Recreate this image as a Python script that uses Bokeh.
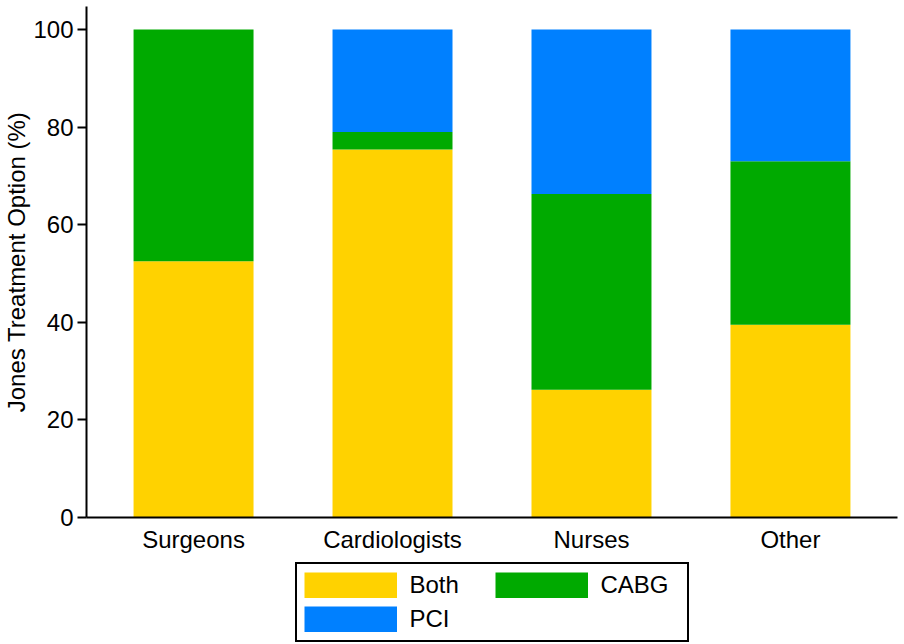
from bokeh.plotting import figure
from bokeh.layouts import column
from bokeh.models import Range1d, FixedTicker, ColumnDataSource, Legend, LegendItem
from bokeh.embed import file_html
from bokeh.resources import INLINE

groups = ["Surgeons", "Cardiologists", "Nurses", "Other"]
both = [52.5, 75.4, 26.2, 39.5]
cabg = [47.5, 3.6, 40.1, 33.5]
pci = [0.0, 21.0, 33.7, 27.0]
series = ["Both", "CABG", "PCI"]
colors = ["#FFD200", "#00AA00", "#0080FF"]
y_ticks = [0, 20, 40, 60, 80, 100]

FONT = "Liberation Sans"
FS = "24px"
FSTYLE = "normal"

xs = list(range(len(groups)))
src = ColumnDataSource(dict(x=xs, Both=both, CABG=cabg, PCI=pci))

p = figure(width=904, height=558, output_backend="svg", toolbar_location=None,
           x_range=Range1d(-0.538, len(groups) - 1 + 0.538),
           y_range=Range1d(0, 104.7),
           min_border_top=6, min_border_left=86, min_border_right=7,
           min_border_bottom=41)
p.outline_line_color = None
p.grid.visible = False
p.background_fill_color = "white"
p.border_fill_color = "white"

p.vbar_stack(series, x="x", width=0.603, fill_color=colors, line_color=None, source=src)

# y axis
ya = p.yaxis[0]
ya.ticker = FixedTicker(ticks=y_ticks)
ya.axis_label = "Jones Treatment Option (%)"
ya.axis_label_text_font = FONT
ya.axis_label_text_font_size = FS
ya.axis_label_text_font_style = FSTYLE
ya.axis_label_text_color = "black"
ya.axis_label_standoff = 0
ya.major_label_text_font = FONT
ya.major_label_text_font_size = FS
ya.major_label_text_font_style = FSTYLE
ya.major_label_text_color = "black"
ya.major_label_standoff = 4
ya.major_tick_out = 9
ya.major_tick_in = 0
ya.minor_tick_out = 0
ya.minor_tick_in = 0
ya.axis_line_width = 2
ya.major_tick_line_width = 2
ya.axis_line_color = "black"
ya.major_tick_line_color = "black"

# x axis
xa = p.xaxis[0]
xa.ticker = FixedTicker(ticks=xs)
xa.major_label_overrides = {i: g for i, g in zip(xs, groups)}
xa.major_label_text_font = FONT
xa.major_label_text_font_size = FS
xa.major_label_text_font_style = FSTYLE
xa.major_label_text_color = "black"
xa.major_label_standoff = 8
xa.major_tick_out = 0
xa.major_tick_in = 0
xa.minor_tick_out = 0
xa.minor_tick_in = 0
xa.axis_line_width = 2
xa.axis_line_color = "black"

# legend panel below the chart
lg = figure(width=904, height=86, output_backend="svg", toolbar_location=None,
            x_axis_type=None, y_axis_type=None,
            x_range=Range1d(0, 1), y_range=Range1d(0, 1),
            min_border=0)
lg.outline_line_color = None
lg.grid.visible = False

nan = float("nan")
items = []
for name, c in zip(series, colors):
    r = lg.line(x=[nan], y=[nan], line_color=c, line_width=26, line_cap="butt")
    items.append(LegendItem(label=name, renderers=[r]))

legend = Legend(items=items, location="top_center", orientation="horizontal", ncols=2,
                glyph_width=93, glyph_height=26, label_standoff=13,
                label_width=79, spacing=6, padding=7, margin=4,
                label_text_font=FONT, label_text_font_size=FS,
                label_text_font_style=FSTYLE,
                label_text_color="black",
                border_line_color="black", border_line_width=2, border_line_alpha=1.0,
                background_fill_alpha=1.0)
lg.add_layout(legend, "center")

layout = column(p, lg, spacing=0)
open("out.html", "w").write(file_html(layout, INLINE))
